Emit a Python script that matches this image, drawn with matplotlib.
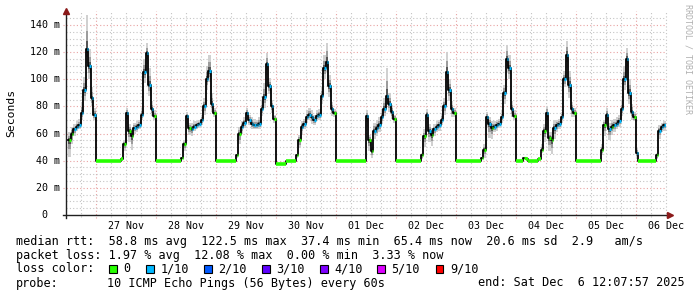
import numpy as np
import matplotlib.pyplot as plt
from matplotlib.patches import Rectangle

# hourly median rtt in ms; hour 0 = 26 Nov 00:00, first value at 26 Nov 13:00
first_hour = 13
end_hour = 252.13   # Sat Dec 6 12:07:57
start_view = 12.13

rtt_nov26 = [55, 60, 63, 65, 66, 75, 92, 122, 110, 86, 74]
rtt_nov27 = [40, 40, 40, 40, 40, 40, 40, 40, 40, 40, 41, 52, 75, 62, 58, 64, 65, 66, 74, 105, 119, 96, 78, 73]
rtt_nov28 = [40, 40, 40, 40, 40, 40, 40, 40, 40, 40, 42, 52, 73, 64, 63, 65, 66, 67, 70, 80, 100, 106, 82, 75]
rtt_nov29 = [40, 40, 40, 40, 40, 40, 40, 40, 44, 60, 65, 68, 75, 70, 67, 66, 66, 67, 78, 87, 111, 95, 80, 71]
rtt_nov30 = [37.5, 37.5, 37.5, 37.5, 40, 40, 40, 40, 44, 55, 65, 67, 72, 74, 72, 70, 73, 74, 88, 108, 113, 95, 78, 75]
rtt_dec01 = [40, 40, 40, 40, 40, 40, 40, 40, 40, 40, 40, 40, 73, 55, 47, 62, 64, 66, 72, 78, 88, 82, 76, 71]
rtt_dec02 = [40, 40, 40, 40, 40, 40, 40, 40, 40, 40, 44, 58, 74, 62, 59, 63, 65, 66, 70, 80, 105, 92, 78, 75]
rtt_dec03 = [40, 40, 40, 40, 40, 40, 40, 40, 40, 40, 42, 48, 72, 67, 64, 65, 66, 67, 72, 90, 115, 108, 78, 73]
rtt_dec04 = [40, 40, 40, 42, 41, 40, 40, 40, 40, 41, 48, 62, 75, 57, 55, 64, 66, 67, 72, 100, 118, 96, 78, 75]
rtt_dec05 = [40, 40, 39.5, 39.5, 39.5, 39.5, 39.5, 39.5, 40, 40, 48, 66, 74, 63, 65, 66, 67, 69, 78, 100, 115, 90, 76, 72]
rtt_dec06 = [46, 40, 40, 40, 40, 40, 40, 40, 44, 62, 65, 66]

# smoke: spread of the pings above / below the median (ms)
up_nov26 = [6, 5, 4, 4, 5, 8, 10, 25, 12, 8, 5]
up_nov27 = [0, 0, 0, 0, 0, 0, 0, 0, 0, 0, 1, 3, 4, 5, 5, 4, 4, 4, 5, 10, 8, 12, 6, 4]
up_nov28 = [0, 0, 0, 0, 0, 0, 0, 0, 0, 0, 1, 3, 3, 4, 5, 4, 3, 3, 4, 6, 10, 12, 8, 4]
up_nov29 = [0, 0, 0, 0, 0, 0, 0, 0, 1, 5, 4, 4, 4, 4, 5, 5, 4, 5, 6, 10, 8, 6, 5, 3]
up_nov30 = [0, 0, 0, 0, 0, 0, 0, 0, 1, 4, 4, 4, 5, 5, 5, 4, 4, 4, 6, 10, 14, 8, 5, 3]
up_dec01 = [0, 0, 0, 0, 0, 0, 0, 0, 0, 0, 0, 0, 4, 4, 6, 6, 6, 6, 6, 8, 20, 8, 5, 3]
up_dec02 = [0, 0, 0, 0, 0, 0, 0, 0, 0, 0, 2, 5, 4, 5, 5, 4, 4, 4, 5, 6, 15, 8, 6, 4]
up_dec03 = [0, 0, 0, 0, 0, 0, 0, 0, 0, 0, 1, 4, 4, 5, 5, 4, 4, 4, 5, 6, 10, 10, 6, 4]
up_dec04 = [0, 0, 0, 0, 0, 0, 0, 0, 0, 0, 4, 5, 5, 4, 6, 6, 4, 4, 4, 6, 10, 10, 5, 4]
up_dec05 = [0, 0, 0, 0, 0, 0, 0, 0, 0, 0, 4, 4, 5, 5, 5, 5, 5, 5, 6, 10, 8, 10, 6, 4]
up_dec06 = [3, 0, 0, 0, 0, 0, 0, 0, 2, 4, 3, 3]

dn_nov26 = [12, 8, 5, 3, 3, 5, 8, 10, 10, 6, 4]
dn_nov27 = [0, 0, 0, 0, 0, 0, 0, 0, 0, 0, 1, 5, 8, 8, 10, 4, 4, 3, 4, 8, 8, 8, 5, 3]
dn_nov28 = [0, 0, 0, 0, 0, 0, 0, 0, 0, 0, 1, 5, 6, 5, 5, 3, 3, 3, 4, 6, 8, 8, 6, 3]
dn_nov29 = [0, 0, 0, 0, 0, 0, 0, 0, 2, 8, 5, 4, 4, 4, 4, 3, 3, 4, 5, 8, 8, 6, 5, 3]
dn_nov30 = [0, 0, 0, 0, 0, 0, 0, 0, 2, 6, 6, 4, 4, 4, 5, 4, 4, 4, 6, 8, 8, 8, 5, 3]
dn_dec01 = [0, 0, 0, 0, 0, 0, 0, 0, 0, 0, 0, 0, 8, 8, 5, 6, 6, 5, 5, 5, 6, 6, 5, 3]
dn_dec02 = [0, 0, 0, 0, 0, 0, 0, 0, 0, 0, 3, 8, 6, 8, 8, 5, 4, 4, 4, 6, 8, 8, 6, 3]
dn_dec03 = [0, 0, 0, 0, 0, 0, 0, 0, 0, 0, 1, 6, 8, 10, 8, 4, 4, 3, 4, 8, 10, 8, 6, 3]
dn_dec04 = [0, 0, 0, 0, 0, 0, 0, 0, 0, 0, 2, 8, 10, 10, 10, 8, 5, 4, 4, 6, 10, 10, 6, 3]
dn_dec05 = [0, 0, 0, 0, 0, 0, 0, 0, 0, 0, 4, 8, 8, 8, 6, 5, 4, 4, 5, 8, 10, 8, 6, 3]
dn_dec06 = [5, 0, 0, 0, 0, 0, 0, 0, 3, 6, 4, 4]

# lost pings out of 10, per hour
loss_nov26 = [0, 0, 1, 1, 1, 1, 1, 1, 1, 1, 1]
loss_nov27 = [0] * 10 + [0, 0, 1, 0, 0, 1, 1, 1, 1, 1, 1, 1, 1, 0]
loss_nov28 = [0] * 10 + [0, 0, 1, 0, 1, 1, 1, 1, 1, 1, 1, 1, 1, 0]
loss_nov29 = [0] * 8 + [0, 0, 1, 1, 1, 1, 1, 1, 1, 1, 1, 1, 1, 1, 1, 0]
loss_nov30 = [0] * 8 + [0, 0, 1, 1, 1, 1, 1, 1, 1, 1, 1, 1, 1, 1, 1, 0]
loss_dec01 = [0] * 12 + [1, 0, 0, 1, 1, 1, 1, 1, 1, 1, 1, 0]
loss_dec02 = [0] * 10 + [0, 0, 1, 1, 0, 1, 1, 1, 1, 1, 1, 1, 1, 0]
loss_dec03 = [0] * 10 + [0, 0, 1, 1, 0, 1, 1, 1, 1, 1, 1, 1, 1, 0]
loss_dec04 = [0] * 10 + [0, 0, 1, 0, 0, 1, 1, 1, 1, 1, 1, 1, 1, 0]
loss_dec05 = [0] * 10 + [0, 0, 1, 1, 0, 1, 1, 1, 1, 1, 1, 1, 1, 0]
loss_dec06 = [1, 0, 0, 0, 0, 0, 0, 0, 0, 1, 1, 1]

day_labels = ["27 Nov", "28 Nov", "29 Nov", "30 Nov", "01 Dec",
              "02 Dec", "03 Dec", "04 Dec", "05 Dec", "06 Dec"]
y_ticks = [0, 20, 40, 60, 80, 100, 120, 140]

loss_labels = ["0", "1/10", "2/10", "3/10", "4/10", "5/10", "9/10"]
loss_colors = ["#26ff00", "#00b8ff", "#0059ff", "#5e00ff", "#7e00ff", "#dd00ff", "#ff0000"]

rtt = np.array(rtt_nov26 + rtt_nov27 + rtt_nov28 + rtt_nov29 + rtt_nov30 + rtt_dec01
               + rtt_dec02 + rtt_dec03 + rtt_dec04 + rtt_dec05 + rtt_dec06, dtype=float)
up = np.array(up_nov26 + up_nov27 + up_nov28 + up_nov29 + up_nov30 + up_dec01
              + up_dec02 + up_dec03 + up_dec04 + up_dec05 + up_dec06, dtype=float)
dn = np.array(dn_nov26 + dn_nov27 + dn_nov28 + dn_nov29 + dn_nov30 + dn_dec01
              + dn_dec02 + dn_dec03 + dn_dec04 + dn_dec05 + dn_dec06, dtype=float)
loss = (loss_nov26 + loss_nov27 + loss_nov28 + loss_nov29 + loss_nov30 + loss_dec01
        + loss_dec02 + loss_dec03 + loss_dec04 + loss_dec05 + loss_dec06)

hours = first_hour + np.arange(len(rtt))
edges = np.append(hours, end_hour)


def ext(a):
    return np.append(a, a[-1])


W, H = 697, 297
MONO = "DejaVu Sans Mono"
fig = plt.figure(figsize=(W / 100, H / 100), dpi=100)
fig.patch.set_facecolor("white")
ax = fig.add_axes([66.3 / W, 1 - 215 / H, 600 / W, 203.6 / H])
ax.set_xlim(start_view, end_hour)
ax.set_ylim(0, 150)
for s in ax.spines.values():
    s.set_visible(False)

# grid
for h in range(18, 253, 6):
    if h % 24 == 0:
        ax.axvline(h, ymin=-0.014, ymax=1, color="#e9a3a3", lw=0.8, ls=(0, (1, 2)), clip_on=False, zorder=0)
    else:
        ax.axvline(h, ymin=-0.01, ymax=1, color="#c4c4c4", lw=0.8, ls=(0, (1, 2)), clip_on=False, zorder=0)
for v in range(5, 150, 5):
    if v % 20 == 0:
        ax.axhline(v, xmin=-0.006, xmax=1, color="#e9a3a3", lw=0.8, ls=(0, (1, 2)), clip_on=False, zorder=0)
    else:
        ax.axhline(v, xmin=0, xmax=1, color="#c4c4c4", lw=0.8, ls=(0, (1, 2)), zorder=0)

# smoke
ax.fill_between(edges, ext(rtt - dn), ext(rtt + up), step="post", color="#d0d0d0", lw=0, zorder=2)
ax.fill_between(edges, ext(rtt - 0.55 * dn), ext(rtt + 0.55 * up), step="post", color="#9c9c9c", lw=0, zorder=3)
ax.fill_between(edges, ext(rtt - 0.25 * dn), ext(rtt + 0.25 * up), step="post", color="#555555", lw=0, zorder=4)

# median line
ax.step(edges, ext(rtt), where="post", color="black", lw=1.3, zorder=5)
for i, h in enumerate(hours):
    nxt = edges[i + 1]
    if loss[i] == 0 and rtt[i] <= 41:
        ax.hlines(rtt[i], h, nxt, color=loss_colors[0], lw=2.6, zorder=6)
    else:
        ax.hlines(rtt[i], h + 0.3, h + 0.95, color=loss_colors[loss[i]], lw=2.3, zorder=6)

# axes lines with arrows
ax.plot([0, 0], [-0.016, 1.0], transform=ax.transAxes, color="#202020", lw=1, clip_on=False, zorder=7)
ax.plot([-0.006, 1.004], [0, 0], transform=ax.transAxes, color="#202020", lw=1, clip_on=False, zorder=7)
ax.plot(0, 1.0, marker="^", color="#8b1a1a", ms=4.5, transform=ax.transAxes, clip_on=False, zorder=8)
ax.plot(1.007, 0, marker=">", color="#8b1a1a", ms=4.5, transform=ax.transAxes, clip_on=False, zorder=8)

# ticks
noons = [36 + 24 * k for k in range(len(day_labels))]
ax.set_xticks(noons, day_labels, fontsize=7.2, family=MONO)
ax.tick_params(axis="x", length=0, pad=4)
ax.set_yticks([])
ytr = ax.get_yaxis_transform()
for v in y_ticks:
    if v == 0:
        ax.text(-0.031, v, "0", transform=ytr, ha="right", va="center", fontsize=7.2, family=MONO)
    else:
        ax.text(-0.0105, v, f"{v} m", transform=ytr, ha="right", va="center", fontsize=7.2, family=MONO)

fig.text(11 / W, 1 - 113 / H, "Seconds", rotation=90, ha="center", va="center", fontsize=8.2, family=MONO)
fig.text(688 / W, 1 - 4 / H, "RRDTOOL / TOBI OETIKER", rotation=-90, ha="center", va="top",
         fontsize=6, family=MONO, color="#b0b0b0")

# legend
fs = 8.5
x0 = 16 / W
fig.text(x0, 1 - 241.5 / H,
         "median rtt:  58.8 ms avg  122.5 ms max  37.4 ms min  65.4 ms now  20.6 ms sd  2.9   am/s",
         va="center", fontsize=fs, family=MONO)
fig.text(x0, 1 - 255 / H, "packet loss: 1.97 % avg  12.08 % max  0.00 % min  3.33 % now",
         va="center", fontsize=fs, family=MONO)
fig.text(x0, 1 - 269 / H, "loss color:", va="center", fontsize=fs, family=MONO)
box_x = [109, 146, 204, 262, 320, 377, 436]
for bx, lab, col in zip(box_x, loss_labels, loss_colors):
    fig.patches.append(Rectangle((bx / W, 1 - 273 / H), 7.5 / W, 8 / H, transform=fig.transFigure,
                                 facecolor=col, edgecolor="black", lw=0.8))
    fig.text((bx + 14.5) / W, 1 - 269 / H, lab, va="center", fontsize=fs, family=MONO)
fig.text(x0, 1 - 283 / H, "probe:", va="center", fontsize=fs, family=MONO)
fig.text(107 / W, 1 - 283 / H, "10 ICMP Echo Pings (56 Bytes) every 60s", va="center", fontsize=fs, family=MONO)
fig.text(478 / W, 1 - 283 / H, "end: Sat Dec  6 12:07:57 2025", va="center", fontsize=fs, family=MONO)

fig.savefig("out.png", dpi=100)
